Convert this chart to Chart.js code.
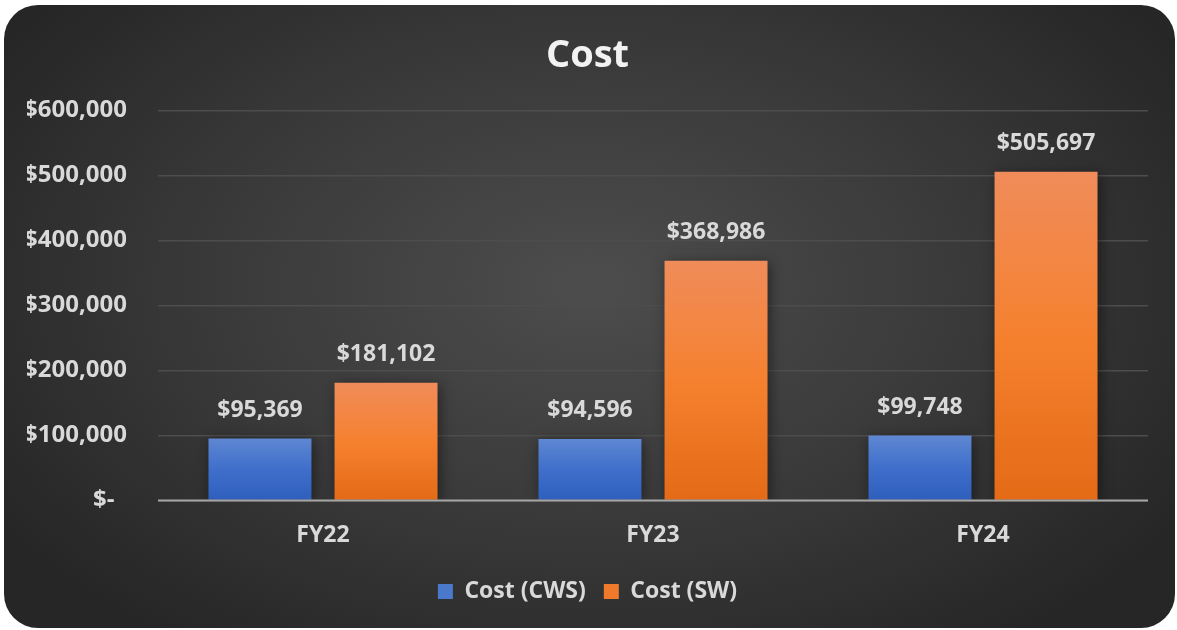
<!DOCTYPE html>
<html>
<head>
<meta charset="utf-8">
<script src="https://cdn.jsdelivr.net/npm/chart.js@4.4.1/dist/chart.umd.min.js"></script>
<style>
  html, body { margin: 0; padding: 0; background: #ffffff; }
  #wrap {
    position: absolute; left: 4px; top: 5px; width: 1171px; height: 623px;
    border-radius: 34px;
    background: radial-gradient(ellipse 60% 70% at 50% 45%, #4d4d4d 0%, #393939 55%, #262626 100%);
    overflow: hidden;
  }
  #c { position: absolute; left: -4px; top: -5px; }
</style>
</head>
<body>
<div id="wrap"><canvas id="c" width="1177" height="630"></canvas></div>
<script>
// 数据
var years = ['FY22', 'FY23', 'FY24']
var costCWS = [95369, 94596, 99748]
var costSW = [181102, 368986, 505697]
var seriesNames = ['Cost (CWS)', 'Cost (SW)']

var FONT = '"Open Sans", "Noto Sans", sans-serif'
var TEXT = '#d9d9d9'

function money(v) {
    if (v === 0) return '$-  '
    return '$' + v.toLocaleString('en-US')
}

/** 每根柱子按自身高度渐变 */
function barGradient(stops, solid) {
    return function (ctx) {
        var chart = ctx.chart
        var y = chart.scales.y
        if (!chart.chartArea || !y || ctx.type !== 'data') return solid
        var top = y.getPixelForValue(ctx.parsed.y)
        var bottom = y.getPixelForValue(0)
        if (!isFinite(top) || !isFinite(bottom) || top === bottom) return solid
        var g = chart.ctx.createLinearGradient(0, top, 0, bottom)
        stops.forEach(function (s) { g.addColorStop(s[0], s[1]) })
        return g
    }
}

/** 柱子阴影 */
var shadowPlugin = {
    id: 'barShadow',
    beforeDatasetsDraw: function (chart) {
        var c = chart.ctx
        c.save()
        c.shadowColor = 'rgba(0,0,0,0.45)'
        c.shadowBlur = 12
        c.shadowOffsetX = 2
        c.shadowOffsetY = 2
    },
    afterDatasetsDraw: function (chart) {
        chart.ctx.restore()
    }
}

/** 柱顶数值标签 */
var valueLabels = {
    id: 'valueLabels',
    afterDraw: function (chart) {
        var c = chart.ctx
        c.save()
        c.font = 'bold 23px ' + FONT
        c.fillStyle = TEXT
        c.textAlign = 'center'
        c.textBaseline = 'middle'
        chart.data.datasets.forEach(function (ds, i) {
            chart.getDatasetMeta(i).data.forEach(function (bar, j) {
                c.fillText(money(ds.data[j]), bar.x, bar.y - 28)
            })
        })
        c.restore()
    }
}

/** 零线 */
var zeroLine = {
    id: 'zeroLine',
    afterDatasetsDraw: function (chart) {
        var c = chart.ctx
        var y = chart.scales.y.getPixelForValue(0)
        c.save()
        c.strokeStyle = '#a6a6a6'
        c.lineWidth = 2
        c.beginPath()
        c.moveTo(chart.chartArea.left, y)
        c.lineTo(chart.chartArea.right, y)
        c.stroke()
        c.restore()
    }
}

var chart = new Chart(document.getElementById('c').getContext('2d'), {
    type: 'bar',
    data: {
        labels: years,
        datasets: [
            {
                label: seriesNames[0],
                data: costCWS,
                backgroundColor: barGradient([[0, '#5f87d2'], [0.5, '#3f6fcb'], [1, '#2f5fbd']], '#4472c4'),
                categoryPercentage: 0.764,
                barPercentage: 0.817
            },
            {
                label: seriesNames[1],
                data: costSW,
                backgroundColor: barGradient([[0, '#f08c5a'], [0.5, '#f5812f'], [1, '#e46a16']], '#ed7d31'),
                categoryPercentage: 0.764,
                barPercentage: 0.817
            }
        ]
    },
    options: {
        responsive: false,
        animation: false,
        layout: { padding: { left: 27, right: 29, top: 33, bottom: 17 } },
        plugins: {
            title: {
                display: true,
                text: 'Cost',
                color: '#f2f2f2',
                font: { family: FONT, size: 38, weight: 'bold' },
                padding: { top: 0, bottom: 32 }
            },
            legend: {
                position: 'bottom',
                labels: {
                    color: TEXT,
                    font: { family: FONT, size: 23, weight: 'bold' },
                    boxWidth: 15,
                    boxHeight: 15,
                    padding: 18,
                    generateLabels: function (chart) {
                        var cols = ['#4a78ca', '#f07a2c']
                        return chart.data.datasets.map(function (ds, i) {
                            return { text: ds.label, fillStyle: cols[i], strokeStyle: cols[i], lineWidth: 0, fontColor: TEXT, datasetIndex: i }
                        })
                    }
                }
            },
            tooltip: { enabled: false }
        },
        scales: {
            x: {
                grid: { display: false },
                border: { display: false },
                ticks: { color: TEXT, font: { family: FONT, size: 23, weight: 'bold' }, padding: 13 }
            },
            y: {
                min: 0,
                max: 600000,
                grid: { color: '#4d4d4d', lineWidth: 1.5, drawTicks: false },
                border: { display: false },
                afterFit: function (scale) { scale.width = 131 },
                ticks: {
                    stepSize: 100000,
                    color: TEXT,
                    font: { family: FONT, size: 24, weight: 'bold' },
                    padding: 31,
                    callback: function (v) { return money(v) }
                }
            }
        }
    },
    plugins: [shadowPlugin, zeroLine, valueLabels]
})
</script>
</body>
</html>
